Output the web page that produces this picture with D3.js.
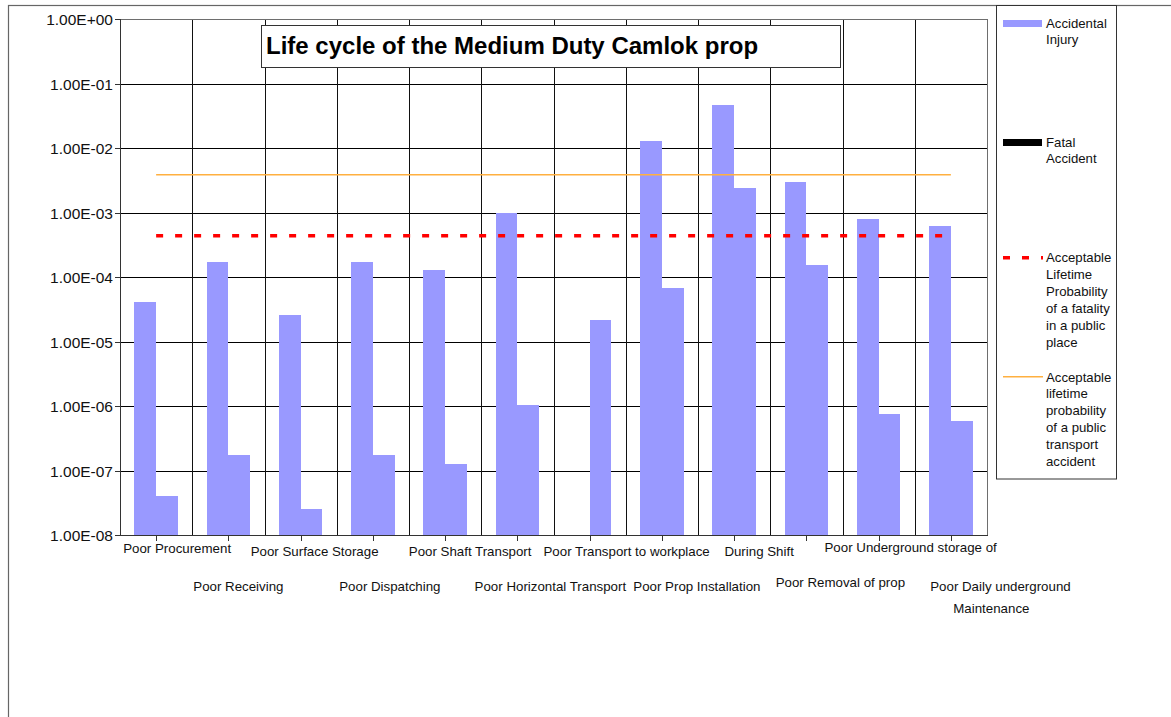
<!DOCTYPE html>
<html>
<head>
<meta charset="utf-8">
<script src="https://cdn.jsdelivr.net/npm/d3@7"></script>
<style>
  html, body { margin: 0; padding: 0; background: #fff; }
  svg { display: block; font-family: "Liberation Sans", Arial, sans-serif; }
</style>
</head>
<body>
<script>
// ---------------- data ----------------
const categories = [
  "Poor Procurement", "Poor Receiving", "Poor Surface Storage", "Poor Dispatching",
  "Poor Shaft Transport", "Poor Horizontal Transport", "Poor Transport to workplace",
  "Poor Prop Installation", "During Shift", "Poor Removal of prop",
  "Poor Underground storage of", "Poor Daily underground\nMaintenance"
];
const seriesNames = ["Accidental Injury", "Fatal Accident"];
const accidentalInjury = [4.1e-5, 1.73e-4, 2.6e-5, 1.7e-4, 1.28e-4, 1.0e-3, null, 1.28e-2, 4.6e-2, 2.97e-3, 7.9e-4, 6.2e-4];
const fatalAccident    = [4.0e-8, 1.75e-7, 2.55e-8, 1.75e-7, 1.27e-7, 1.04e-6, 2.15e-5, 6.7e-5, 2.4e-3, 1.53e-4, 7.6e-7, 5.9e-7];
const acceptableFatalityPublicPlace = 4.37e-4;
const acceptablePublicTransport = 3.85e-3;
const yTicks = [1e0, 1e-1, 1e-2, 1e-3, 1e-4, 1e-5, 1e-6, 1e-7, 1e-8];
const yTickLabels = ["1.00E+00", "1.00E-01", "1.00E-02", "1.00E-03", "1.00E-04", "1.00E-05", "1.00E-06", "1.00E-07", "1.00E-08"];
const titleText = "Life cycle of the Medium Duty Camlok prop";
const legendLines = [
  ["Accidental", "Injury"],
  ["Fatal", "Accident"],
  ["Acceptable", "Lifetime", "Probability", "of a fatality", "in a public", "place"],
  ["Acceptable", "lifetime", "probability", "of a public", "transport", "accident"]
];

// ---------------- layout ----------------
const W = 1171, H = 717;
const plot = { left: 120, right: 987, top: 19, bottom: 535 };
const barColor = "#9999FF";
// per-label horizontal nudge from band centre (per line) and baseline
const labelDx = [[21], [10], [14], [17], [25], [33], [37], [35], [25], [34], [32], [49.6, 40.5]];
const labelBaseline = [553, 591, 556, 591, 556, 591, 556, 591, 556, 587, 552, 591];

const svg = d3.select("body").append("svg").attr("width", W).attr("height", H);

// outer chart border
svg.append("rect").attr("x", 8.5).attr("y", 5.5).attr("width", 1300).attr("height", 900)
  .attr("fill", "#fff").attr("stroke", "#666").attr("stroke-width", 1.2);

const y = d3.scaleLog().domain([1e-8, 1]).range([plot.bottom, plot.top]);
const x0 = d3.scaleBand().domain(categories).range([plot.left, plot.right]).paddingInner(0).paddingOuter(0);
const bw = x0.bandwidth();
const x1 = d3.scaleBand().domain(seriesNames).range([0, bw]).paddingInner(0).paddingOuter(0.667);

const g = svg.append("g").attr("shape-rendering", "crispEdges");

// horizontal gridlines
g.selectAll("line.hgrid").data(yTicks).join("line")
  .attr("x1", plot.left).attr("x2", plot.right)
  .attr("y1", d => Math.round(y(d)) + 0.5).attr("y2", d => Math.round(y(d)) + 0.5)
  .attr("stroke", "#000").attr("stroke-width", 1);

// vertical gridlines at category boundaries
g.selectAll("line.vgrid").data(categories.slice(1)).join("line")
  .attr("x1", d => Math.round(x0(d)) + 0.5).attr("x2", d => Math.round(x0(d)) + 0.5)
  .attr("y1", plot.top).attr("y2", plot.bottom)
  .attr("stroke", "#111").attr("stroke-width", 1);

// bars
const rows = categories.map((c, i) => ({ c, vals: [accidentalInjury[i], fatalAccident[i]] }));
const groups = g.selectAll("g.cat").data(rows).join("g").attr("transform", d => `translate(${x0(d.c)},0)`);
groups.selectAll("rect").data(d => d.vals.map((v, k) => ({ s: seriesNames[k], v })).filter(e => e.v != null))
  .join("rect")
  .attr("x", e => x1(e.s)).attr("width", x1.bandwidth())
  .attr("y", e => y(e.v)).attr("height", e => y(1e-8) - y(e.v))
  .attr("fill", barColor);

// plot area border / axes
g.append("rect").attr("x", plot.left + 0.5).attr("y", plot.top + 0.5)
  .attr("width", plot.right - plot.left).attr("height", plot.bottom - plot.top)
  .attr("fill", "none").attr("stroke", "#6e6e6e").attr("stroke-width", 1);
g.append("line").attr("x1", plot.left + 0.5).attr("x2", plot.left + 0.5).attr("y1", plot.top).attr("y2", plot.bottom + 1)
  .attr("stroke", "#333").attr("stroke-width", 1.5);
g.append("line").attr("x1", plot.left).attr("x2", plot.right + 1).attr("y1", plot.bottom + 0.5).attr("y2", plot.bottom + 0.5)
  .attr("stroke", "#333").attr("stroke-width", 1.5);

// y ticks
g.selectAll("line.ytick").data(yTicks).join("line")
  .attr("x1", plot.left - 5).attr("x2", plot.left)
  .attr("y1", d => Math.round(y(d)) + 0.5).attr("y2", d => Math.round(y(d)) + 0.5)
  .attr("stroke", "#333");
svg.selectAll("text.ytl").data(yTicks).join("text")
  .attr("x", 113).attr("y", d => y(d) + 6)
  .attr("text-anchor", "end").attr("font-size", "15.5px").attr("fill", "#111")
  .text((d, i) => yTickLabels[i]);

// x ticks at category centres
g.selectAll("line.xtick").data(categories).join("line")
  .attr("x1", d => Math.round(x0(d) + bw / 2) + 0.5).attr("x2", d => Math.round(x0(d) + bw / 2) + 0.5)
  .attr("y1", plot.bottom).attr("y2", plot.bottom + 6)
  .attr("stroke", "#333");

// category labels (staggered)
categories.forEach((c, i) => {
  const lines = c.split("\n");
  const t = svg.append("text").attr("font-size", "13.3px").attr("fill", "#111").attr("text-anchor", "middle");
  lines.forEach((ln, j) => {
    t.append("tspan")
      .attr("x", x0(c) + bw / 2 + labelDx[i][j])
      .attr("y", labelBaseline[i] + j * 21.7)
      .text(ln);
  });
});

// reference lines
const xStart = x0(categories[0]) + bw / 2;
const xEnd = x0(categories[categories.length - 1]) + bw / 2;
svg.append("line").attr("x1", xStart).attr("x2", xEnd)
  .attr("y1", y(acceptablePublicTransport)).attr("y2", y(acceptablePublicTransport))
  .attr("stroke", "#FFB040").attr("stroke-width", 1.5);
svg.append("line").attr("x1", xStart).attr("x2", xEnd)
  .attr("y1", y(acceptableFatalityPublicPlace)).attr("y2", y(acceptableFatalityPublicPlace))
  .attr("stroke", "#FF0000").attr("stroke-width", 3.5).attr("stroke-dasharray", "7,12");

// title box
svg.append("rect").attr("x", 261.5).attr("y", 25.5).attr("width", 579).attr("height", 42)
  .attr("fill", "#fff").attr("stroke", "#333").attr("stroke-width", 1);
svg.append("text").attr("x", 266).attr("y", 53.5)
  .attr("font-size", "24px").attr("font-weight", "bold").attr("fill", "#000")
  .text(titleText);

// legend
svg.append("rect").attr("x", 996.5).attr("y", 5.5).attr("width", 120).attr("height", 473.5)
  .attr("fill", "#fff").attr("stroke", "#333").attr("stroke-width", 1);
const lg = svg.append("g");
// swatches
lg.append("rect").attr("x", 1003).attr("y", 20).attr("width", 39).attr("height", 7).attr("fill", barColor);
lg.append("rect").attr("x", 1003).attr("y", 139).attr("width", 39).attr("height", 7).attr("fill", "#000");
lg.append("line").attr("x1", 1003).attr("x2", 1043).attr("y1", 257.7).attr("y2", 257.7)
  .attr("stroke", "#FF0000").attr("stroke-width", 3.5).attr("stroke-dasharray", "7,12");
lg.append("line").attr("x1", 1003).attr("x2", 1043).attr("y1", 376.7).attr("y2", 376.7)
  .attr("stroke", "#FFB040").attr("stroke-width", 1.5);
const legendFirstBaseline = [27.5, 146.5, 262, 381.5];
legendLines.forEach((lines, i) => {
  const t = lg.append("text").attr("font-size", "13.2px").attr("fill", "#111");
  lines.forEach((ln, j) => {
    t.append("tspan").attr("x", 1046).attr("y", legendFirstBaseline[i] + j * 16.9).text(ln);
  });
});
</script>
</body>
</html>
